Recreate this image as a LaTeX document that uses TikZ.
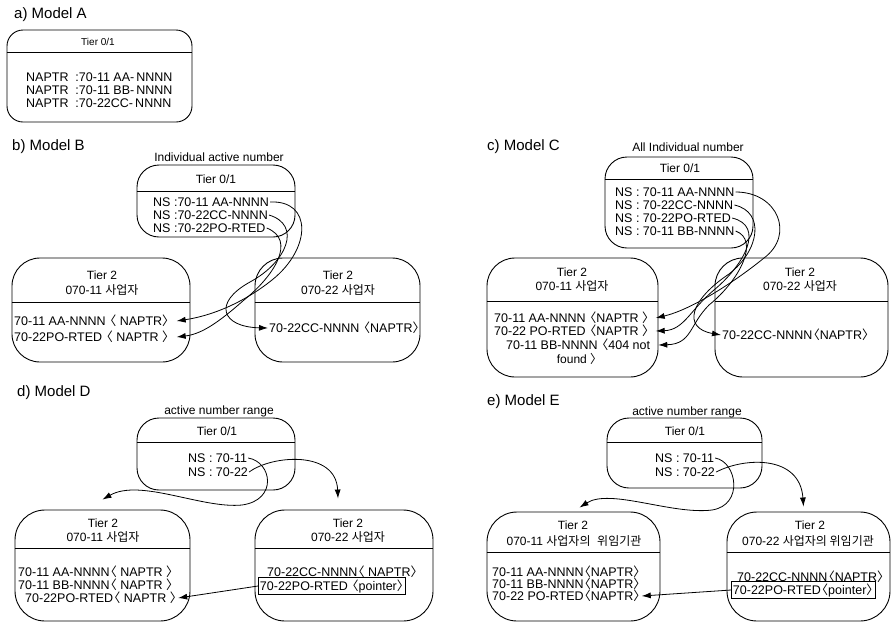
\documentclass[tikz,border=0pt]{standalone}
\usepackage{fontspec}
\setmainfont{Liberation Sans}
\newfontfamily\kr{Noto Sans CJK KR}
\usetikzlibrary{arrows.meta,fit}
\newcommand\angL{{\kr\kern-.42em 〈}}
\newcommand\angR{{\kr 〉\kern-.42em}}

\begin{document}
\begin{tikzpicture}[x=1pt,y=-1pt,
				tierbox/.style={draw, rectangle, inner sep=0pt, line width=0.9pt, rounded corners=#1},
				tierbox/.default=22pt,
				divider/.style={line width=0.9pt},
				modeltitle/.style={anchor=west, inner sep=0pt, font=\fontsize{15}{17}\selectfont},
				rangenote/.style={inner sep=0pt, font=\fontsize{12}{14}\selectfont},
				tierhead/.style={inner sep=0pt, font=\fontsize{12}{14}\selectfont},
				record/.style={anchor=west, inner sep=1pt, font=\fontsize{12.5}{14}\selectfont},
				ptrbox/.style={record, draw, line width=0.9pt, inner sep=1.5pt},
				lnk/.style={-{Latex[length=9pt,width=6pt]}, line width=0.8pt}
				]
				\fill[white] (0,0) rectangle (891,622);
				\useasboundingbox (0,0) rectangle (891,622);
				
				% a) Model A
				\node[modeltitle] (tA) at (14,15) {a) Model A};
				\node[tierbox=16pt, fit={(7,30) (192,122)}] (aT) {};
				\draw[divider] ([yshift=-23pt]aT.north west) -- ([yshift=-23pt]aT.north east);
				\node[tierhead, font=\fontsize{10}{12}\selectfont] (aH) at (98,42) {Tier 0/1};
				\node[record] (a1) at (25,77) {NAPTR\ \ :70-11 AA-\,NNNN};
				\node[record] (a2) at (25,90) {NAPTR\ \ :70-11 BB-\,NNNN};
				\node[record] (a3) at (25,103) {NAPTR\ \ :70-22CC-\,NNNN};
				
				% b) Model B
				\node[modeltitle] (tB) at (12,147) {b) Model B};
				\node[rangenote] (bC) at (219,157) {Individual active number};
				\node[tierbox, fit={(137,165) (295,237)}] (bT) {};
				\draw[divider] ([yshift=-27pt]bT.north west) -- ([yshift=-27pt]bT.north east);
				\node[tierhead] (bH) at (216,179) {Tier 0/1};
				\node[record] (b1) at (152,202) {NS :70-11 AA-NNNN};
				\node[record] (b2) at (152,215) {NS :70-22CC-NNNN};
				\node[record] (b3) at (152,228) {NS :70-22PO-RTED};
				\node[tierbox=28pt, fit={(12,258) (190,362)}] (bL) {};
				\draw[divider] ([yshift=-45pt]bL.north west) -- ([yshift=-45pt]bL.north east);
				\node[tierhead] (bL1) at (102,275) {Tier 2};
				\node[tierhead] (bL2) at (102,290) {070-11 {\kr 사업자}};
				\node[record] (bl1) at (13,321) {70-11 AA-NNNN \angL\ NAPTR\angR};
				\node[record] (bl2) at (13,337) {70-22PO-RTED \angL\ NAPTR \angR};
				\node[tierbox=28pt, fit={(255,258) (420,362)}] (bR) {};
				\draw[divider] ([yshift=-45pt]bR.north west) -- ([yshift=-45pt]bR.north east);
				\node[tierhead] (bR1) at (338,275) {Tier 2};
				\node[tierhead] (bR2) at (338,290) {070-22 {\kr 사업자}};
				\node[record] (br1) at (268,328) {70-22CC-NNNN \angL NAPTR\angR};
				\draw[lnk] (b1.east) .. controls (312,200) and (312,248) .. (272,280) .. controls (242,304) and (210,316) .. ([xshift=6pt]bl1.east);
				\draw[lnk] (b2.east) .. controls (302,225) and (287,262) .. (250,282) .. controls (212,303) and (222,327) .. (br1.west);
				\draw[lnk] (b3.east) .. controls (297,240) and (274,276) .. (244,300) .. controls (219,322) and (202,334) .. ([xshift=6pt]bl2.east);
				
				% c) Model C
				\node[modeltitle] (tC) at (487,147) {c) Model C};
				\node[rangenote] (cC) at (688,147) {All Individual number};
				\node[tierbox, fit={(605,157) (753,248)}] (cT) {};
				\draw[divider] ([yshift=-23pt]cT.north west) -- ([yshift=-23pt]cT.north east);
				\node[tierhead] (cH) at (680,168) {Tier 0/1};
				\node[record] (c1) at (614,192) {NS : 70-11 AA-NNNN};
				\node[record] (c2) at (614,205) {NS : 70-22CC-NNNN};
				\node[record] (c3) at (614,218) {NS : 70-22PO-RTED};
				\node[record] (c4) at (614,231) {NS : 70-11 BB-NNNN};
				\node[tierbox=28pt, fit={(487,258) (658,377)}] (cL) {};
				\draw[divider] ([yshift=-44pt]cL.north west) -- ([yshift=-44pt]cL.north east);
				\node[tierhead] (cL1) at (572,272) {Tier 2};
				\node[tierhead] (cL2) at (572,286) {070-11 {\kr 사업자}};
				\node[record] (cl1) at (493,318) {70-11 AA-NNNN \angL NAPTR \angR};
				\node[record] (cl2) at (493,331) {70-22 PO-RTED \angL NAPTR \angR};
				\node[record] (cl3) at (505,345) {70-11 BB-NNNN \angL 404 not};
				\node[tierhead] (cl4) at (577,359) {found \angR};
				\node[tierbox=28pt, fit={(715,258) (888,377)}] (cR) {};
				\draw[divider] ([yshift=-44pt]cR.north west) -- ([yshift=-44pt]cR.north east);
				\node[tierhead] (cR1) at (800,272) {Tier 2};
				\node[tierhead] (cR2) at (800,286) {070-22 {\kr 사업자}};
				\node[record] (cr1) at (721,335) {70-22CC-NNNN\angL NAPTR\angR};
				\draw[lnk] (c1.east) .. controls (778,192) and (795,235) .. (764,258) .. controls (732,284) and (690,310) .. ([xshift=5pt]cl1.east);
				\draw[lnk] (c2.east) .. controls (765,212) and (760,250) .. (729,274) .. controls (690,300) and (682,328) .. (cr1.west);
				\draw[lnk] (c3.east) .. controls (765,226) and (745,264) .. (714,290) .. controls (690,310) and (684,330) .. ([xshift=5pt]cl2.east);
				\draw[lnk] (c4.east) .. controls (760,240) and (740,280) .. (709,305) .. controls (689,325) and (692,344) .. ([xshift=7pt]cl3.east);
				
				% d) Model D
				\node[modeltitle] (tD) at (17,393) {d) Model D};
				\node[rangenote] (dC) at (219,411) {active number range};
				\node[tierbox, fit={(137,418) (295,490)}] (dT) {};
				\draw[divider] ([yshift=-25pt]dT.north west) -- ([yshift=-25pt]dT.north east);
				\node[tierhead] (dH) at (217,431) {Tier 0/1};
				\node[record] (d1) at (187,458) {NS : 70-11};
				\node[record] (d2) at (187,472) {NS : 70-22};
				\node[tierbox=30pt, fit={(15,510) (190,621)}] (dL) {};
				\draw[divider] ([yshift=-39pt]dL.north west) -- ([yshift=-39pt]dL.north east);
				\node[tierhead] (dL1) at (103,523) {Tier 2};
				\node[tierhead] (dL2) at (103,537) {070-11 {\kr 사업자}};
				\node[record] (dl1) at (17,572) {70-11 AA-NNNN\angL\ NAPTR \angR};
				\node[record] (dl2) at (17,585) {70-11 BB-NNNN\angL\ NAPTR \angR};
				\node[record] (dl3) at (24,598) {70-22PO-RTED\angL\ NAPTR \angR};
				\node[tierbox=30pt, fit={(255,510) (433,621)}] (dR) {};
				\draw[divider] ([yshift=-39pt]dR.north west) -- ([yshift=-39pt]dR.north east);
				\node[tierhead] (dR1) at (348,523) {Tier 2};
				\node[tierhead] (dR2) at (348,537) {070-22 {\kr 사업자}};
				\node[record] (dr1) at (266,572) {70-22CC-NNNN\angL\ NAPTR\angR};
				\node[ptrbox] (dr2) at (258,586) {70-22PO-RTED \angL pointer\angR};
				\draw[lnk] (d1.east) .. controls (272,462) and (278,500) .. (242,505) .. controls (202,509) and (140,478) .. ([yshift=10pt]dL.north);
				\draw[lnk] (d2.east) .. controls (272,455) and (336,450) .. ([xshift=-6pt,yshift=11pt]dR.north);
				\draw[lnk] (dr2.west) -- (dl3.east);
				
				% e) Model E
				\node[modeltitle] (tE) at (487,402) {e) Model E};
				\node[rangenote] (eC) at (687,412) {active number range};
				\node[tierbox, fit={(607,418) (762,488)}] (eT) {};
				\draw[divider] ([yshift=-25pt]eT.north west) -- ([yshift=-25pt]eT.north east);
				\node[tierhead] (eH) at (685,431) {Tier 0/1};
				\node[record] (e1) at (654,458) {NS : 70-11};
				\node[record] (e2) at (654,472) {NS : 70-22};
				\node[tierbox=30pt, fit={(487,512) (660,621)}] (eL) {};
				\draw[divider] ([yshift=-41pt]eL.north west) -- ([yshift=-41pt]eL.north east);
				\node[tierhead] (eL1) at (573,525) {Tier 2};
				\node[tierhead] (eL2) at (574,541) {070-11 {\kr 사업자의}\ \ {\kr 위임기관}};
				\node[record] (el1) at (491,572) {70-11 AA-NNNN\angL NAPTR\angR};
				\node[record] (el2) at (491,584) {70-11 BB-NNNN\angL NAPTR\angR};
				\node[record] (el3) at (491,596) {70-22 PO-RTED\angL NAPTR\angR};
				\node[tierbox=30pt, fit={(727,512) (890,621)}] (eR) {};
				\draw[divider] ([yshift=-41pt]eR.north west) -- ([yshift=-41pt]eR.north east);
				\node[tierhead] (eR1) at (810,525) {Tier 2};
				\node[tierhead] (eR2) at (808,541) {070-22 {\kr 사업자의 위임기관}};
				\node[record] (er1) at (736,577) {70-22CC-NNNN\angL NAPTR\angR};
				\node[ptrbox] (er2) at (731,590) {70-22PO-RTED\angL pointer\angR};
				\draw[lnk] (e1.east) .. controls (737,462) and (744,505) .. (712,510) .. controls (672,515) and (610,488) .. ([xshift=6pt,yshift=4pt]eL.north);
				\draw[lnk] (e2.east) .. controls (745,457) and (800,455) .. ([xshift=-5pt,yshift=5pt]eR.north);
				\draw[lnk] (er2.west) -- (el3.east);
			\end{tikzpicture}
\end{document}
